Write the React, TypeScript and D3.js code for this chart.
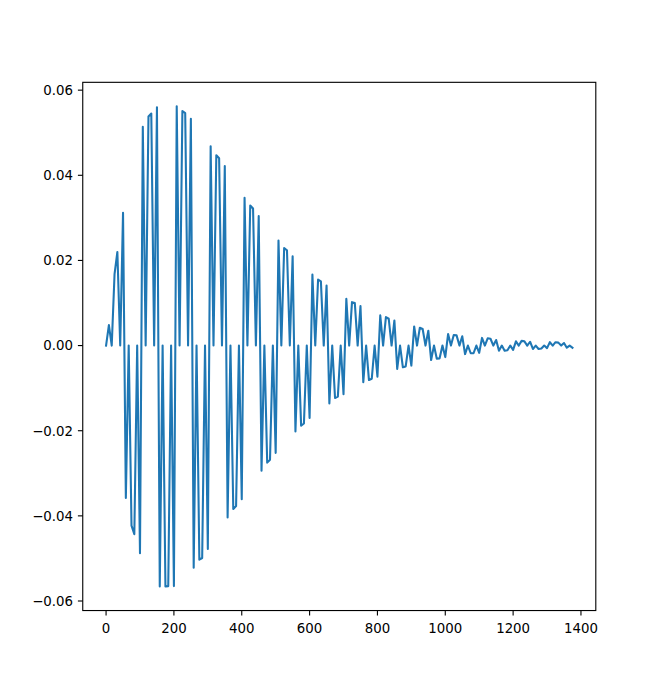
import React from "react";
import * as d3 from "d3";

// sample times (x axis)
const times: number[] = [
  0, 8.3, 16.7, 25, 33.3, 41.7, 50, 58.3, 66.7, 75, 83.3, 91.7,
  100, 108.3, 116.7, 125, 133.3, 141.7, 150, 158.3, 166.7, 175, 183.3, 191.7,
  200, 208.3, 216.7, 225, 233.3, 241.7, 250, 258.3, 266.7, 275, 283.3, 291.7,
  300, 308.3, 316.7, 325, 333.3, 341.7, 350, 358.3, 366.7, 375, 383.3, 391.7,
  400, 408.3, 416.7, 425, 433.3, 441.7, 450, 458.3, 466.7, 475, 483.3, 491.7,
  500, 508.3, 516.7, 525, 533.3, 541.7, 550, 558.3, 566.7, 575, 583.3, 591.7,
  600, 608.3, 616.7, 625, 633.3, 641.7, 650, 658.3, 666.7, 675, 683.3, 691.7,
  700, 708.3, 716.7, 725, 733.3, 741.7, 750, 758.3, 766.7, 775, 783.3, 791.7,
  800, 808.3, 816.7, 825, 833.3, 841.7, 850, 858.3, 866.7, 875, 883.3, 891.7,
  900, 908.3, 916.7, 925, 933.3, 941.7, 950, 958.3, 966.7, 975, 983.3, 991.7,
  1000, 1008.3, 1016.7, 1025, 1033.3, 1041.7, 1050, 1058.3, 1066.7, 1075, 1083.3, 1091.7,
  1100, 1108.3, 1116.7, 1125, 1133.3, 1141.7, 1150, 1158.3, 1166.7, 1175, 1183.3, 1191.7,
  1200, 1208.3, 1216.7, 1225, 1233.3, 1241.7, 1250, 1258.3, 1266.7, 1275, 1283.3, 1291.7,
  1300, 1308.3, 1316.7, 1325, 1333.3, 1341.7, 1350, 1358.3, 1366.7, 1375,
];

// signal values
const values: number[] = [
  0, 0.0048, 0, 0.0168, 0.022, 0, 0.0312, -0.0358, 0, -0.0423, -0.0443, 0,
  -0.0488, 0.0514, 0, 0.0538, 0.0545, 0, 0.056, -0.0566, 0, -0.0566, -0.0565, 0,
  -0.0565, 0.0562, 0, 0.0551, 0.0546, 0, 0.0533, -0.0522, 0, -0.0503, -0.0499, 0,
  -0.0478, 0.0468, 0, 0.0447, 0.044, 0, 0.0422, -0.0404, 0, -0.0384, -0.0377, 0,
  -0.0361, 0.0347, 0, 0.0329, 0.0322, 0, 0.0304, -0.0294, 0, -0.0275, -0.0268, 0,
  -0.0252, 0.0247, 0, 0.0229, 0.0224, 0, 0.021, -0.0202, 0, -0.0188, -0.0183, 0,
  -0.017, 0.0167, 0, 0.0155, 0.0151, 0, 0.0141, -0.0136, 0, -0.0123, -0.012, 0,
  -0.0114, 0.011, 0, 0.0102, 0.01, 0, 0.0093, -0.0086, 0, -0.0081, -0.0078, 0,
  -0.0073, 0.0071, 0, 0.0067, 0.0063, 0, 0.0059, -0.0055, 0, -0.0051, -0.0049, 0,
  -0.0047, 0.0045, 0, 0.0042, 0.0039, 0, 0.0035, -0.0034, 0, -0.0031, -0.003, 0,
  -0.0027, 0.0027, 0, 0.0025, 0.0024, 0, 0.0022, -0.002, 0, -0.0018, -0.0018, 0,
  -0.0017, 0.0018, 0, 0.0017, 0.0016, 0, 0.0013, -0.0012, 0, -0.0012, -0.0011, 0,
  -0.001, 0.001, 0, 0.0011, 0.001, 0, 0.0009, -0.0008, 0, -0.0008, -0.0007, 0,
  -0.0006, 0.0008, 0, 0.0008, 0.0007, 0, 0.0006, -0.0005, 0, -0.0005,
];

const xTicks: number[] = [0, 200, 400, 600, 800, 1000, 1200, 1400];
const yTicks: number[] = [-0.06, -0.04, -0.02, 0, 0.02, 0.04, 0.06];

const W = 662;
const H = 686;
const left = 82.75;
const right = 595.8;
const top = 82.32;
const bottom = 610.54;

export default function App() {
  const [xmin, xmax] = d3.extent(times) as [number, number];
  const [ymin, ymax] = d3.extent(values) as [number, number];
  const xm = (xmax - xmin) * 0.05;
  const ym = (ymax - ymin) * 0.05;
  const x = d3.scaleLinear().domain([xmin - xm, xmax + xm]).range([left, right]);
  const y = d3.scaleLinear().domain([ymin - ym, ymax + ym]).range([bottom, top]);
  const pts: [number, number][] = values.map((v, i) => [times[i], v]);
  const line = d3
    .line<[number, number]>()
    .x((d) => x(d[0]))
    .y((d) => y(d[1]));
  const fmtY = (v: number) => {
    const s = v.toFixed(2);
    return v < 0 ? "\u2212" + s.slice(1) : s;
  };
  const font = "DejaVu Sans, sans-serif";
  return (
    <svg
      width={W}
      height={H}
      style={{ position: "absolute", left: 0, top: 0, background: "#fff" }}
      fontFamily={font}
    >
      <rect x={0} y={0} width={W} height={H} fill="#fff" />
      <defs>
        <clipPath id="plotclip">
          <rect x={left} y={top} width={right - left} height={bottom - top} />
        </clipPath>
      </defs>
      <path
        d={line(pts) || ""}
        fill="none"
        stroke="#1f77b4"
        strokeWidth={2.08}
        strokeLinejoin="round"
        strokeLinecap="square"
        clipPath="url(#plotclip)"
      />
      <rect
        x={left}
        y={top}
        width={right - left}
        height={bottom - top}
        fill="none"
        stroke="#000"
        strokeWidth={1.11}
      />
      {xTicks.map((t) => (
        <g key={"x" + t}>
          <line x1={x(t)} x2={x(t)} y1={bottom} y2={bottom + 4.86} stroke="#000" strokeWidth={1.11} />
          <text x={x(t)} y={bottom + 22.3} textAnchor="middle" fontSize={13.33} fill="#000">
            {String(t)}
          </text>
        </g>
      ))}
      {yTicks.map((t) => (
        <g key={"y" + t}>
          <line x1={left - 4.86} x2={left} y1={y(t)} y2={y(t)} stroke="#000" strokeWidth={1.11} />
          <text x={left - 9.7} y={y(t) + 4.8} textAnchor="end" fontSize={13.33} fill="#000">
            {fmtY(t)}
          </text>
        </g>
      ))}
    </svg>
  );
}
